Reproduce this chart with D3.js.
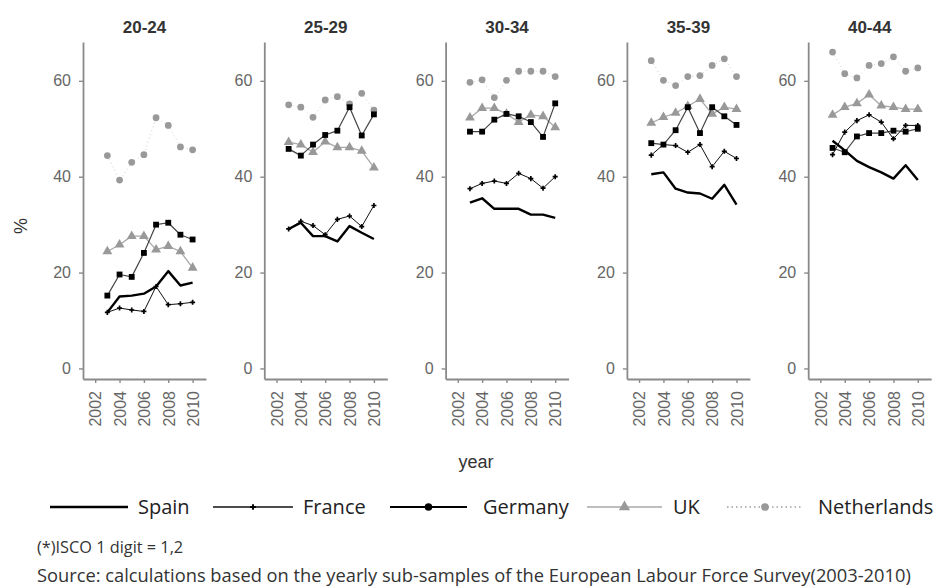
<!DOCTYPE html>
<html>
<head>
<meta charset="utf-8">
<script src="https://cdn.jsdelivr.net/npm/d3@7"></script>
<style>
  html, body { margin: 0; padding: 0; background: #fff; }
  svg { display: block; }
</style>
</head>
<body>
<svg id="chart" width="939" height="587"></svg>
<script>
// Share (%) by age group and country, 2003-2010
const years = [2003, 2004, 2005, 2006, 2007, 2008, 2009, 2010];
const ageGroups = ["20-24", "25-29", "30-34", "35-39", "40-44"];
const countries = ["Spain", "France", "Germany", "UK", "Netherlands"];

// one row per age group, one value per year
const spain = [
  [11.7, 15.0, 15.2, 15.6, 17.1, 20.3, 17.3, 17.9],
  [29.1, 30.4, 27.6, 27.6, 26.5, 29.7, 28.3, 27.0],
  [34.6, 35.5, 33.3, 33.3, 33.3, 32.1, 32.1, 31.4],
  [40.5, 40.9, 37.5, 36.7, 36.5, 35.4, 38.3, 34.2],
  [47.5, 45.5, 43.3, 42.0, 40.9, 39.6, 42.4, 39.3]
];
const france = [
  [11.7, 12.6, 12.2, 11.9, 17.1, 13.3, 13.5, 13.8],
  [29.1, 30.7, 29.8, 27.9, 31.1, 31.8, 29.6, 34.0],
  [37.5, 38.6, 39.1, 38.6, 40.7, 39.6, 37.6, 40.0],
  [44.5, 46.7, 46.5, 45.1, 46.7, 42.1, 45.3, 43.8],
  [44.6, 49.3, 51.7, 52.9, 51.4, 47.9, 50.7, 50.7]
];
const germany = [
  [15.2, 19.6, 19.1, 24.1, 30.0, 30.4, 27.9, 26.9],
  [45.8, 44.4, 46.7, 48.7, 49.6, 54.5, 48.6, 53.0],
  [49.4, 49.4, 51.9, 53.1, 52.6, 51.4, 48.3, 55.3],
  [47.0, 46.7, 49.7, 54.5, 49.1, 54.5, 52.6, 50.8],
  [46.0, 45.1, 48.4, 49.1, 49.1, 49.6, 49.4, 50.0]
];
const uk = [
  [24.4, 25.8, 27.6, 27.6, 24.8, 25.5, 24.4, 21.0],
  [47.2, 46.7, 45.1, 47.3, 46.1, 46.1, 45.4, 41.9],
  [52.3, 54.3, 54.3, 53.1, 51.4, 52.9, 52.6, 50.3],
  [51.2, 52.4, 53.3, 54.7, 56.2, 53.1, 54.5, 54.1],
  [52.9, 54.5, 55.3, 57.1, 54.8, 54.5, 54.1, 54.1]
];
const netherlands = [
  [44.4, 39.3, 43.0, 44.6, 52.3, 50.7, 46.2, 45.6],
  [55.0, 54.5, 52.4, 56.0, 56.7, 55.2, 57.4, 53.9],
  [59.7, 60.2, 56.5, 60.1, 62.0, 62.0, 62.0, 60.9],
  [64.2, 60.1, 59.0, 60.9, 61.1, 63.2, 64.6, 60.9],
  [66.0, 61.5, 60.6, 63.2, 63.6, 65.0, 62.0, 62.7]
];
const yTicks = [0, 20, 40, 60];
const xTicks = [2002, 2004, 2006, 2008, 2010];

const seriesValues = { Spain: spain, France: france, Germany: germany, UK: uk, Netherlands: netherlands };

// visual encoding per country
const styles = {
  Spain:       { stroke: "#000", width: 2.4, dash: null,  symbol: null },
  France:      { stroke: "#111", width: 1.0, dash: null,  symbol: d3.symbolCross, size: 14, fill: "#000" },
  Germany:     { stroke: "#444", width: 1.2, dash: null,  symbol: d3.symbolSquare, size: 34, fill: "#000" },
  UK:          { stroke: "#a8a8a8", width: 1.3, dash: null, symbol: d3.symbolTriangle, size: 42, fill: "#999" },
  Netherlands: { stroke: "#cfcfcf", width: 1.0, dash: "1,3", symbol: d3.symbolCircle, size: 36, fill: "#999" }
};

const svg = d3.select("#chart");
const fontChart = "'Liberation Sans', Arial, sans-serif";
const fontText = "'Open Sans', sans-serif";

const panel = { left0: 83, step: 181.3, width: 123, top: 42, bottom: 379 };

const x = d3.scaleLinear().domain([2001, 2011.1]).range([0, panel.width]);
const y = d3.scaleLinear().domain([-2.2, 68.1]).range([panel.bottom, panel.top]);

const drawOrder = ["Netherlands", "UK", "Germany", "France", "Spain"];

ageGroups.forEach((age, gi) => {
  const g = svg.append("g").attr("transform", `translate(${panel.left0 + gi * panel.step},0)`);

  // strip title
  g.append("text")
    .attr("x", panel.width / 2).attr("y", 33)
    .attr("text-anchor", "middle")
    .style("font-family", fontChart).style("font-weight", "bold")
    .style("font-size", "17px").style("fill", "#333")
    .text(age);

  // y axis
  const ya = g.append("g").call(d3.axisLeft(y).tickValues(yTicks).tickSize(4).tickSizeOuter(0).tickPadding(8));
  // x axis
  const xa = g.append("g").attr("transform", `translate(0,${panel.bottom})`)
    .call(d3.axisBottom(x).tickValues(xTicks).tickFormat(d3.format("d")).tickSize(4).tickSizeOuter(0));
  xa.selectAll("text")
    .attr("transform", "rotate(-90)")
    .attr("x", -12).attr("y", 0).attr("dy", "0.36em")
    .style("text-anchor", "end");
  [ya, xa].forEach(a => {
    a.select(".domain").attr("stroke", "#8a8a8a").attr("stroke-width", 1.8);
    a.selectAll(".tick line").attr("stroke", "#8a8a8a").attr("stroke-width", 1.4);
    a.selectAll("text").style("font-family", fontChart).style("font-size", "16px").style("fill", "#666");
  });

  const line = d3.line().x((d, i) => x(years[i])).y(d => y(d));

  drawOrder.forEach(c => {
    const s = styles[c];
    const vals = seriesValues[c][gi];
    g.append("path")
      .attr("d", line(vals))
      .attr("fill", "none")
      .attr("stroke", s.stroke)
      .attr("stroke-width", s.width)
      .attr("stroke-dasharray", s.dash)
      .attr("stroke-linejoin", "round");
    if (s.symbol) {
      g.selectAll(null).data(vals).join("path")
        .attr("transform", (d, i) => `translate(${x(years[i])},${y(d)})`)
        .attr("d", d3.symbol().type(s.symbol).size(s.size))
        .attr("fill", s.fill);
    }
  });
});

// axis titles
svg.append("text")
  .attr("transform", "translate(27,226) rotate(-90)")
  .attr("text-anchor", "middle")
  .style("font-family", fontChart).style("font-size", "18px").style("fill", "#333")
  .text("%");
svg.append("text")
  .attr("x", 476).attr("y", 468)
  .attr("text-anchor", "middle")
  .style("font-family", fontChart).style("font-size", "18px").style("fill", "#333")
  .text("year");

// legend
const legendItems = [
  { name: "Spain",       x0: 50,  x1: 128, tx: 138 },
  { name: "France",      x0: 213, x1: 293, tx: 303 },
  { name: "Germany",     x0: 390, x1: 467, tx: 483 },
  { name: "UK",          x0: 587, x1: 662, tx: 673 },
  { name: "Netherlands", x0: 727, x1: 803, tx: 818 }
];
const legendY = 507;
const lg = svg.append("g");
legendItems.forEach(it => {
  const s = styles[it.name];
  const isNL = it.name === "Netherlands";
  lg.append("line")
    .attr("x1", it.x0).attr("x2", it.x1).attr("y1", legendY).attr("y2", legendY)
    .attr("stroke", it.name === "Germany" ? "#000" : (isNL ? "#a0a0a0" : s.stroke))
    .attr("stroke-width", it.name === "Germany" ? 2 : (it.name === "France" ? 1.6 : (isNL ? 1.5 : s.width)))
    .attr("stroke-dasharray", isNL ? "1.5,3" : s.dash);
  if (s.symbol) {
    lg.append("path")
      .attr("transform", `translate(${(it.x0 + it.x1) / 2},${legendY})`)
      .attr("d", d3.symbol().type(it.name === "Germany" ? d3.symbolCircle : s.symbol).size(s.size * 1.3))
      .attr("fill", s.fill);
  }
  lg.append("text")
    .attr("x", it.tx).attr("y", legendY).attr("dy", "0.35em")
    .style("font-family", fontText).style("font-size", "20px").style("fill", "#222")
    .text(it.name);
});

// notes
svg.append("text")
  .attr("x", 37).attr("y", 553)
  .style("font-family", fontText).style("font-size", "16.3px").style("fill", "#333")
  .text("(*)ISCO 1 digit = 1,2");
svg.append("text")
  .attr("x", 37).attr("y", 582)
  .style("font-family", fontText).style("font-size", "18.3px").style("fill", "#333")
  .text("Source: calculations based on the yearly sub-samples of the European Labour Force Survey(2003-2010)");
</script>
</body>
</html>
